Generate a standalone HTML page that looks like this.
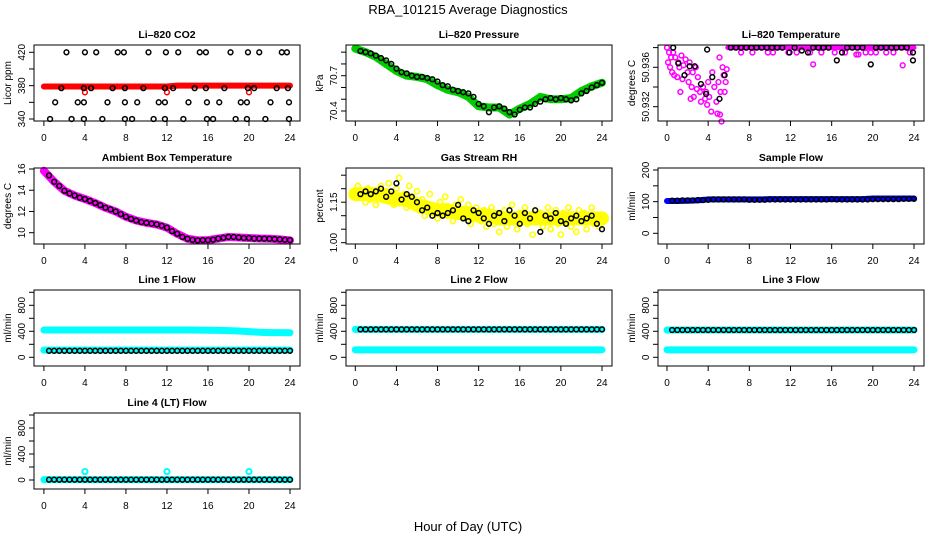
<!DOCTYPE html>
<html><head><meta charset="utf-8"><style>
body{margin:0;background:#fff}
svg{display:block;font-family:"Liberation Sans",sans-serif}
</style></head><body>
<svg id="chart" width="936" height="540" viewBox="0 0 936 540" xmlns="http://www.w3.org/2000/svg">
<rect x="0" y="0" width="936" height="540" fill="#fff"/>
<text x="468" y="14" text-anchor="middle" font-size="13">RBA_101215  Average Diagnostics</text>
<text x="468" y="531" text-anchor="middle" font-size="13">Hour of Day (UTC)</text>
</svg>
<script>
// ---------- data ----------
const xTicks=[0,4,8,12,16,20,24];
const halfHours=[0.5,1,1.5,2,2.5,3,3.5,4,4.5,5,5.5,6,6.5,7,7.5,8,8.5,9,9.5,10,10.5,11,11.5,12,12.5,13,13.5,14,14.5,15,15.5,16,16.5,17,17.5,18,18.5,19,19.5,20,20.5,21,21.5,22,22.5,23,23.5,24];
const hours=[0,1,2,3,4,5,6,7,8,9,10,11,12,13,14,15,16,17,18,19,20,21,22,23,24];
// CO2
const co2BandA=[379,379,379,379,379,379,379,379,379,379,379,379,379,380,380,380,380,380,380,380,380,380,380,380,380];
const co2RedOutT=[4,12,20];
const co2RedOutV=[372,372,372];
const co2BlackT=[2.2,4.0,5.1,7.2,7.8,10.2,11.9,13.1,15.2,15.8,18.2,19.9,21.0,23.2,23.7,1.7,3.9,4.6,6.7,7.9,9.7,11.8,12.6,14.7,15.8,17.6,19.9,20.5,22.7,23.8,1.1,3.3,3.9,6.2,7.9,9.1,11.2,11.8,14.1,15.9,17.1,19.2,19.8,22.1,23.9,0.6,2.7,3.9,5.7,7.9,8.6,10.7,11.8,13.6,15.9,16.5,18.7,19.8,21.6,23.9];
const co2BlackV=[420,420,420,420,420,420,420,420,420,420,420,420,420,420,420,377,377,377,377,377,377,377,377,377,377,377,377,377,377,377,360,360,360,360,360,360,360,360,360,360,360,360,360,360,360,340,340,340,340,340,340,340,340,340,340,340,340,340,340,340];
// Pressure
const presBand=[70.93,70.90,70.86,70.80,70.74,70.70,70.69,70.67,70.62,70.58,70.56,70.52,70.44,70.43,70.43,70.37,70.42,70.46,70.52,70.50,70.50,70.51,70.57,70.61,70.64];
const presBlack=[70.91,70.90,70.89,70.87,70.85,70.83,70.80,70.76,70.73,70.72,70.70,70.69,70.69,70.68,70.67,70.65,70.62,70.61,70.58,70.57,70.56,70.55,70.52,70.46,70.44,70.39,70.43,70.44,70.42,70.39,70.37,70.41,70.43,70.43,70.46,70.48,70.50,70.51,70.50,70.51,70.50,70.49,70.50,70.55,70.57,70.60,70.62,70.64];
// Li-820 temperature
const tempEarlyT=[0,0.1,0.2,0.3,0.4,0.5,0.6,0.8,1.0,1.1,1.2,1.4,1.6,1.8,2.0,2.1,2.2,2.4,2.5,2.6,2.8,3.0,3.2,3.3,3.5,3.7,3.8,4.0,4.1,4.3,4.4,4.6,4.8,5.0,5.1,5.2,5.3,5.4,5.5,5.6,5.7,5.8,1.5,0.7,3.9,4.9,2.9,2.3,1.3,5.15];
const tempEarlyV=[50.938,50.9365,50.9375,50.936,50.937,50.9355,50.9375,50.937,50.935,50.9365,50.936,50.9372,50.9362,50.9368,50.9355,50.9345,50.9365,50.934,50.9355,50.933,50.936,50.935,50.9335,50.9325,50.934,50.9328,50.9335,50.9345,50.933,50.9315,50.9355,50.934,50.9325,50.9345,50.937,50.9335,50.9305,50.936,50.9352,50.9335,50.9345,50.9358,50.9348,50.9352,50.9322,50.9313,50.9338,50.9328,50.9335,50.9312];
const tempBandT=[5.9,8,10,12,14,16,18,20,22,24];
const tempBandV=[50.938,50.938,50.938,50.938,50.938,50.938,50.938,50.938,50.938,50.938];
const tempLowT=[7.2,8.3,9.8,10.3,11.8,12.6,13.9,14.2,15.0,16.3,17.3,18.4,18.6,19.3,19.8,20.3,21.3,22.0,22.9,23.6];
const tempLowV=[50.9375,50.9375,50.9375,50.9375,50.9375,50.9375,50.9375,50.9363,50.9375,50.9375,50.9375,50.9373,50.9373,50.9375,50.9375,50.9375,50.9375,50.9375,50.9362,50.9375];
const tempBlackT=[0.6,1.1,1.7,2.2,2.7,3.3,3.8,3.9,4.4,5.1,5.6,6.2,6.7,7.2,7.7,8.2,8.7,9.2,9.7,10.2,10.7,11.2,11.9,12.4,13.1,13.7,14.2,14.7,15.2,15.7,16.5,17.0,17.5,18.0,18.5,19.0,19.8,20.3,20.8,21.3,21.8,22.3,22.8,23.3,23.9,23.9];
const tempBlackV=[50.938,50.9364,50.9352,50.9361,50.9361,50.9343,50.9333,50.9378,50.935,50.9328,50.9352,50.938,50.938,50.938,50.938,50.938,50.938,50.938,50.938,50.938,50.938,50.938,50.9375,50.938,50.9377,50.9375,50.938,50.938,50.938,50.938,50.9367,50.9375,50.938,50.938,50.938,50.938,50.9363,50.938,50.938,50.938,50.938,50.938,50.938,50.938,50.9367,50.9375];
// Ambient box temperature
const ambBand=[15.83,14.8,13.95,13.5,13.17,12.8,12.35,12.0,11.5,11.15,10.93,10.78,10.47,9.9,9.43,9.28,9.3,9.45,9.6,9.55,9.5,9.45,9.43,9.37,9.28];
const ambBlack=[15.4,14.8,14.4,13.95,13.7,13.5,13.3,13.17,13.0,12.8,12.6,12.35,12.2,12.0,11.75,11.5,11.3,11.15,11.0,10.93,10.85,10.78,10.65,10.47,10.15,9.9,9.6,9.43,9.33,9.28,9.3,9.3,9.35,9.45,9.52,9.6,9.6,9.55,9.5,9.5,9.45,9.45,9.44,9.43,9.4,9.37,9.33,9.3];
// Gas stream RH
const rhBand=[1.18,1.18,1.18,1.17,1.16,1.16,1.14,1.13,1.12,1.12,1.11,1.11,1.10,1.10,1.09,1.09,1.09,1.09,1.09,1.09,1.09,1.09,1.09,1.09,1.09];
const rhYellowT=[0,0.25,0.5,0.75,1,1.25,1.5,1.75,2,2.25,2.5,2.75,3,3.25,3.5,3.75,4,4.25,4.5,4.75,5,5.25,5.5,5.75,6,6.25,6.5,6.75,7,7.25,7.5,7.75,8,8.25,8.5,8.75,9,9.25,9.5,9.75,10,10.25,10.5,10.75,11,11.25,11.5,11.75,12,12.25,12.5,12.75,13,13.25,13.5,13.75,14,14.25,14.5,14.75,15,15.25,15.5,15.75,16,16.25,16.5,16.75,17,17.25,17.5,17.75,18,18.25,18.5,18.75,19,19.25,19.5,19.75,20,20.25,20.5,20.75,21,21.25,21.5,21.75,22,22.25,22.5,22.75,23,23.25,23.5,23.75,24];
const rhYellowV=[1.19,1.21,1.17,1.18,1.15,1.20,1.16,1.19,1.14,1.18,1.21,1.16,1.19,1.22,1.17,1.14,1.20,1.24,1.16,1.18,1.13,1.21,1.17,1.15,1.19,1.12,1.16,1.10,1.14,1.18,1.11,1.13,1.09,1.15,1.12,1.17,1.10,1.13,1.08,1.14,1.11,1.16,1.09,1.12,1.14,1.07,1.11,1.13,1.10,1.08,1.12,1.06,1.10,1.13,1.07,1.11,1.04,1.09,1.12,1.06,1.10,1.14,1.08,1.05,1.11,1.09,1.13,1.07,1.10,1.03,1.12,1.08,1.11,1.06,1.10,1.13,1.05,1.09,1.12,1.07,1.03,1.11,1.08,1.13,1.06,1.10,1.04,1.12,1.08,1.11,1.05,1.09,1.13,1.07,1.10,1.06,1.09];
const rhBlack=[1.18,1.19,1.18,1.19,1.20,1.17,1.19,1.22,1.16,1.18,1.17,1.15,1.12,1.13,1.10,1.11,1.10,1.11,1.12,1.14,1.09,1.08,1.12,1.11,1.09,1.07,1.10,1.11,1.08,1.12,1.10,1.07,1.11,1.09,1.12,1.04,1.10,1.09,1.11,1.08,1.07,1.09,1.10,1.08,1.09,1.10,1.07,1.05];
// Sample flow
const sfBand=[102,102,103,104,107,107,107,107,107,107,108,108,108,108,108,108,108,108,108,108,110,110,110,110,110];
const sfBlack=[103,103,104,104,104,105,105,106,107,107,107,107,107,107,107,106,106,106,106,107,107,107,107,107,107,107,107,107,107,107,107,108,107,107,107,107,107,107,107,108,108,108,108,108,108,109,109,109];
// Line flows
const l1Hi=[420,420,420,420,420,420,420,420,420,420,420,420,420,420,420,418,416,414,410,405,395,385,380,380,378];
const l1Lo=[110,110,110,110,110,110,110,110,110,110,110,110,110,110,110,110,110,110,110,110,110,110,110,110,110];
const l1Black=[100,100,100,100,100,100,100,100,100,100,100,100,100,100,100,100,100,100,100,100,100,100,100,100,100,100,100,100,100,100,100,100,100,100,100,100,100,100,100,100,100,100,100,100,100,100,100,100];
const l2Hi=[430,430,430,430,430,430,430,430,430,430,430,430,430,430,430,430,430,430,430,430,430,430,430,430,430];
const l2Lo=[115,115,115,115,115,115,115,115,115,115,115,115,115,115,115,115,115,115,115,115,115,115,115,115,115];
const l2Black=[430,430,430,430,430,430,430,430,430,430,430,430,430,430,430,430,430,430,430,430,430,430,430,430,430,430,430,430,430,430,430,430,430,430,430,430,430,430,430,430,430,430,430,430,430,430,430,430];
const l3Hi=[420,420,420,420,420,420,420,420,420,420,420,420,420,420,420,420,420,420,420,420,420,420,420,420,420];
const l3Lo=[115,115,115,115,115,115,115,115,115,115,115,115,115,115,115,115,115,115,115,115,115,115,115,115,115];
const l3Black=[420,420,420,420,420,420,420,420,420,420,420,420,420,420,420,420,420,420,420,420,420,420,420,420,420,420,420,420,420,420,420,420,420,420,420,420,420,420,420,420,420,420,420,420,420,420,420,420];
const l4Band=[5,5,5,5,5,5,5,5,5,5,5,5,5,5,5,5,5,5,5,5,5,5,5,5,5];
const l4OutT=[4,12,20];
const l4OutV=[130,130,130];
const l4Black=[5,5,5,5,5,5,5,5,5,5,5,5,5,5,5,5,5,5,5,5,5,5,5,5,5,5,5,5,5,5,5,5,5,5,5,5,5,5,5,5,5,5,5,5,5,5,5,5];

// ---------- drawing ----------
const NS='http://www.w3.org/2000/svg';
const svg=document.getElementById('chart');
function mk(tag,attrs,parent){const e=document.createElementNS(NS,tag);for(const k in attrs)e.setAttribute(k,attrs[k]);parent.appendChild(e);return e;}
const cols=[{bx0:34,bx1:300,x0:43.9,x24:290},{bx0:346,bx1:612,x0:355.3,x24:602},{bx0:658,bx1:924,x0:667,x24:914}];
const rows=[[45,121],[168,244],[290,366],[413,489]];

function panel(name,col,row,title,ylab,v1,p1,v2,p2,yticks,ylabels,decimals){
  const c=cols[col],r=rows[row];
  const g=mk('g',{},svg);
  
  
  const xs=h=>c.x0+(c.x24-c.x0)*h/24;
  const ys=v=>p1+(v-v1)*(p2-p1)/(v2-v1);
  const plot=mk('g',{},g);
  
  
  const box=mk('rect',{x:c.bx0,y:r[0],width:c.bx1-c.bx0,height:r[1]-r[0],fill:'none',stroke:'#000','stroke-width':1},g);
  
  
  const t=mk('text',{x:(c.bx0+c.bx1)/2,y:r[0]-7,'text-anchor':'middle','font-size':10.5,'font-weight':'bold'},g);
  t.textContent=title;
  
  
  // x axis
  const xa=mk('g',{},g);
  
  
  mk('line',{x1:xs(0),x2:xs(24),y1:r[1],y2:r[1],stroke:'#000'},xa);
  xTicks.forEach(h=>{
    mk('line',{x1:xs(h),x2:xs(h),y1:r[1],y2:r[1]+5,stroke:'#000'},xa);
    const l=mk('text',{x:xs(h),y:r[1]+20,'text-anchor':'middle','font-size':10},xa);
    l.textContent=h;
    
    
  });
  // y axis
  const ya=mk('g',{},g);
  
  
  mk('line',{x1:c.bx0,x2:c.bx0,y1:ys(yticks[0]),y2:ys(yticks[yticks.length-1]),stroke:'#000'},ya);
  yticks.forEach(v=>{mk('line',{x1:c.bx0-5,x2:c.bx0,y1:ys(v),y2:ys(v),stroke:'#000'},ya);});
  ylabels.forEach(v=>{
    const l=mk('text',{x:0,y:0,'text-anchor':'middle','font-size':10,transform:`translate(${c.bx0-9},${ys(v)}) rotate(-90)`},ya);
    l.textContent=v.toFixed(decimals);
    
    
  });
  const yl=mk('text',{x:0,y:0,'text-anchor':'middle','font-size':10,transform:`translate(${c.bx0-23},${(r[0]+r[1])/2}) rotate(-90)`},g);
  yl.textContent=ylab;
  
  
  return {plot,xs,ys,r};
}
function band(P,ts,vs,color,w,name){
  const pts=ts.map((t,i)=>P.xs(t)+','+P.ys(vs[i])).join(' ');
  const pl=mk('polyline',{points:pts,fill:'none',stroke:color,'stroke-width':w,'stroke-linejoin':'round','stroke-linecap':'round'},P.plot);
  
  
}
function pts(P,ts,vs,color,name,r,sw){
  ts.forEach((t,i)=>{
    const y=P.ys(vs[i]);
    if(y<P.r[0]-3||y>P.r[1]+3)return;
    const c=mk('circle',{cx:P.xs(t),cy:y,r:r||2.4,fill:'none',stroke:color,'stroke-width':sw||1.5},P.plot);
    
    
  });
}
const flowTicks=[0,200,400,600,800,1000],flowLabels=[0,400,800];

let P=panel('co2',0,0,'Li–820 CO2','Licor ppm',340,119,420,52.3,[340,360,380,400,420],[340,380,420],0);
band(P,hours,co2BandA,'#ff0000',6,'co2-red-band');
pts(P,co2RedOutT,co2RedOutV,'#ff0000','co2-red-point');
pts(P,co2BlackT,co2BlackV,'#000','co2-black-point');

P=panel('pressure',1,0,'Li–820 Pressure','kPa',70.4,111,70.7,75.7,[70.4,70.5,70.6,70.7,70.8,70.9],[70.4,70.7],1);
band(P,hours,presBand,'#00cc00',8,'pressure-green-band');
pts(P,halfHours,presBlack,'#000','pressure-black-point');

P=panel('li820-temp',2,0,'Li–820 Temperature','degrees C',50.932,106.7,50.936,67.3,[50.932,50.934,50.936,50.938],[50.932,50.936],3);
pts(P,tempEarlyT,tempEarlyV,'#ff00ff','temp-magenta-point');
band(P,tempBandT,tempBandV,'#ff00ff',5,'temp-magenta-band');
pts(P,tempLowT,tempLowV,'#ff00ff','temp-magenta-point');
pts(P,tempBlackT,tempBlackV,'#000','temp-black-point');

P=panel('ambient-temp',0,1,'Ambient Box Temperature','degrees C',10,232.7,16,169,[10,12,14,16],[10,12,14,16],0);
band(P,hours,ambBand,'#ff00ff',8,'ambient-magenta-band');
pts(P,halfHours,ambBlack,'#000','ambient-black-point');

P=panel('gas-rh',1,1,'Gas Stream RH','percent',1.00,242.7,1.15,202.2,[1.00,1.05,1.10,1.15,1.20,1.25],[1.00,1.15],2);
band(P,hours,rhBand,'#ffff00',14,'rh-yellow-band');
pts(P,rhYellowT,rhYellowV,'#ffff00','rh-yellow-point',2.6,1.6);
pts(P,halfHours,rhBlack,'#000','rh-black-point');

P=panel('sample-flow',2,1,'Sample Flow','ml/min',0,233.3,200,170,[0,50,100,150,200],[0,100,200],0);
band(P,hours,sfBand,'#0000ff',6,'sample-blue-band');
pts(P,halfHours,sfBlack,'#000','sample-black-point');

P=panel('line1-flow',0,2,'Line 1 Flow','ml/min',0,357.3,800,305.3,flowTicks,flowLabels,0);
band(P,hours,l1Hi,'#00ffff',7,'line1-cyan-high-band');
band(P,hours,l1Lo,'#00ffff',7,'line1-cyan-low-band');
pts(P,halfHours,l1Black,'#000','line1-black-point');

P=panel('line2-flow',1,2,'Line 2 Flow','ml/min',0,357.3,800,305.3,flowTicks,flowLabels,0);
band(P,hours,l2Hi,'#00ffff',7,'line2-cyan-high-band');
band(P,hours,l2Lo,'#00ffff',7,'line2-cyan-low-band');
pts(P,halfHours,l2Black,'#000','line2-black-point');

P=panel('line3-flow',2,2,'Line 3 Flow','ml/min',0,357.3,800,305.3,flowTicks,flowLabels,0);
band(P,hours,l3Hi,'#00ffff',7,'line3-cyan-high-band');
band(P,hours,l3Lo,'#00ffff',7,'line3-cyan-low-band');
pts(P,halfHours,l3Black,'#000','line3-black-point');

P=panel('line4-flow',0,3,'Line 4 (LT) Flow','ml/min',0,480,800,428,flowTicks,flowLabels,0);
band(P,hours,l4Band,'#00ffff',7,'line4-cyan-band');
pts(P,l4OutT,l4OutV,'#00ffff','line4-cyan-point',2.6,2);
pts(P,halfHours,l4Black,'#000','line4-black-point');
</script>
</body></html>
